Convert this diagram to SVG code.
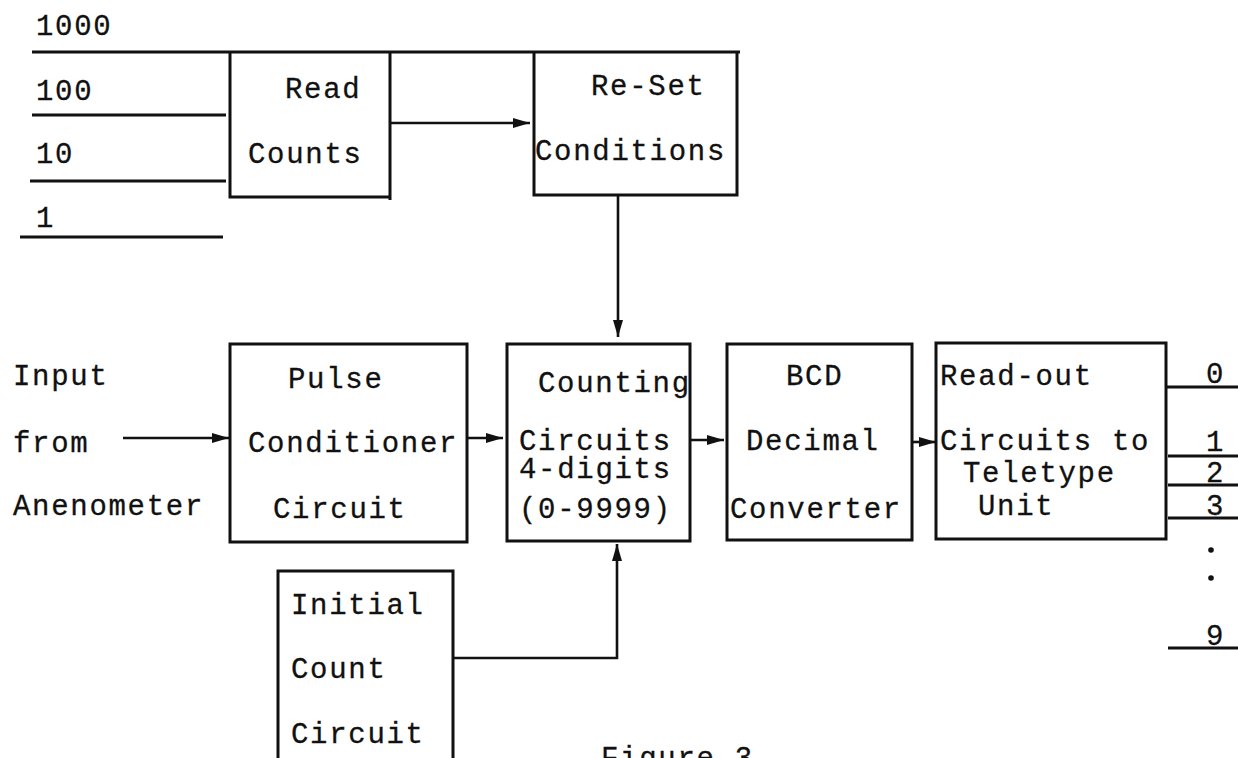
<svg xmlns="http://www.w3.org/2000/svg" width="1238" height="758" viewBox="0 0 1238 758">
  <style>
    text { font-family: "Liberation Mono", "Courier New", monospace; font-size: 29px; letter-spacing: 1.7px; fill: #111; stroke: #111; stroke-width: 0.3; }
    .box { fill: none; stroke: #111; stroke-width: 3; }
    .wire { fill: none; stroke: #111; stroke-width: 2.6; }
    .bus { fill: none; stroke: #111; stroke-width: 3; }
  </style>
  <defs>
    <marker id="arrow" markerUnits="userSpaceOnUse" markerWidth="18" markerHeight="12" refX="17" refY="6" orient="auto">
      <path d="M0,1 L17,6 L0,11 Z" fill="#111"/>
    </marker>
  </defs>
  <rect width="1238" height="758" fill="#fff"/>

  <!-- Count read-in lines (decades) -->
  <g id="decade-lines">
    <line class="bus" x1="32" y1="52" x2="740" y2="52"/>
    <line class="bus" x1="32" y1="115" x2="226" y2="115"/>
    <line class="bus" x1="30" y1="181" x2="226" y2="181"/>
    <line class="bus" x1="20" y1="237" x2="223" y2="237"/>
    <text x="36" y="35">1000</text>
    <text x="36" y="100">100</text>
    <text x="36" y="163">10</text>
    <text x="36" y="227">1</text>
  </g>

  <g id="read-counts">
    <path class="box" d="M230,52 V197 H390 M390,52 V200"/>
    <text x="285" y="98">Read</text>
    <text x="248" y="163">Counts</text>
  </g>

  <g id="reset-conditions">
    <path class="box" d="M534,52 V195 H737 V52"/>
    <text x="591" y="95">Re-Set</text>
    <text x="535" y="160">Conditions</text>
  </g>

  <g id="input-label">
    <text x="13" y="385">Input</text>
    <text x="13" y="452">from</text>
    <text x="13" y="515">Anenometer</text>
  </g>

  <g id="pulse-conditioner">
    <rect class="box" x="230" y="344" width="237" height="198"/>
    <text x="288" y="388">Pulse</text>
    <text x="248" y="452">Conditioner</text>
    <text x="273" y="518">Circuit</text>
  </g>

  <g id="counting-circuits">
    <rect class="box" x="507" y="344" width="183" height="197"/>
    <text x="538" y="392">Counting</text>
    <text x="519" y="450">Circuits</text>
    <text x="519" y="478">4-digits</text>
    <text x="519" y="518">(0-9999)</text>
  </g>

  <g id="bcd-converter">
    <rect class="box" x="727" y="344" width="185" height="196"/>
    <text x="786" y="385">BCD</text>
    <text x="746" y="450">Decimal</text>
    <text x="730" y="518">Converter</text>
  </g>

  <g id="readout-circuits">
    <rect class="box" x="936" y="343" width="230" height="196"/>
    <text x="940" y="385">Read-out</text>
    <text x="940" y="450">Circuits to</text>
    <text x="963" y="482">Teletype</text>
    <text x="978" y="515">Unit</text>
  </g>

  <g id="initial-count">
    <path class="box" d="M278,770 V571 H453 V770"/>
    <text x="291" y="614">Initial</text>
    <text x="291" y="678">Count</text>
    <text x="291" y="743">Circuit</text>
  </g>

  <g id="teletype-outputs">
    <line class="bus" x1="1166" y1="387" x2="1238" y2="387"/>
    <line class="bus" x1="1168" y1="456" x2="1238" y2="456"/>
    <line class="bus" x1="1168" y1="485" x2="1238" y2="485"/>
    <line class="bus" x1="1168" y1="518" x2="1238" y2="518"/>
    <line class="bus" x1="1168" y1="648" x2="1238" y2="648"/>
    <text x="1206" y="383">0</text>
    <text x="1206" y="451">1</text>
    <text x="1206" y="482">2</text>
    <text x="1206" y="515">3</text>
    <circle cx="1211" cy="550" r="2.8" fill="#111"/>
    <circle cx="1211" cy="578" r="2.8" fill="#111"/>
    <text x="1206" y="645">9</text>
  </g>

  <g id="connectors">
    <line class="wire" x1="390" y1="123" x2="530" y2="123" marker-end="url(#arrow)"/>
    <line class="wire" x1="618" y1="195" x2="618" y2="337" marker-end="url(#arrow)"/>
    <line class="wire" x1="123" y1="438" x2="229" y2="438" marker-end="url(#arrow)"/>
    <line class="wire" x1="467" y1="438" x2="503" y2="438" marker-end="url(#arrow)"/>
    <line class="wire" x1="690" y1="440" x2="724" y2="440" marker-end="url(#arrow)"/>
    <line class="wire" x1="912" y1="442" x2="936" y2="442" marker-end="url(#arrow)"/>
    <path class="wire" d="M453,658 H617 V544" marker-end="url(#arrow)"/>
  </g>

  <text id="caption" x="601" y="767">Figure 3</text>
</svg>
